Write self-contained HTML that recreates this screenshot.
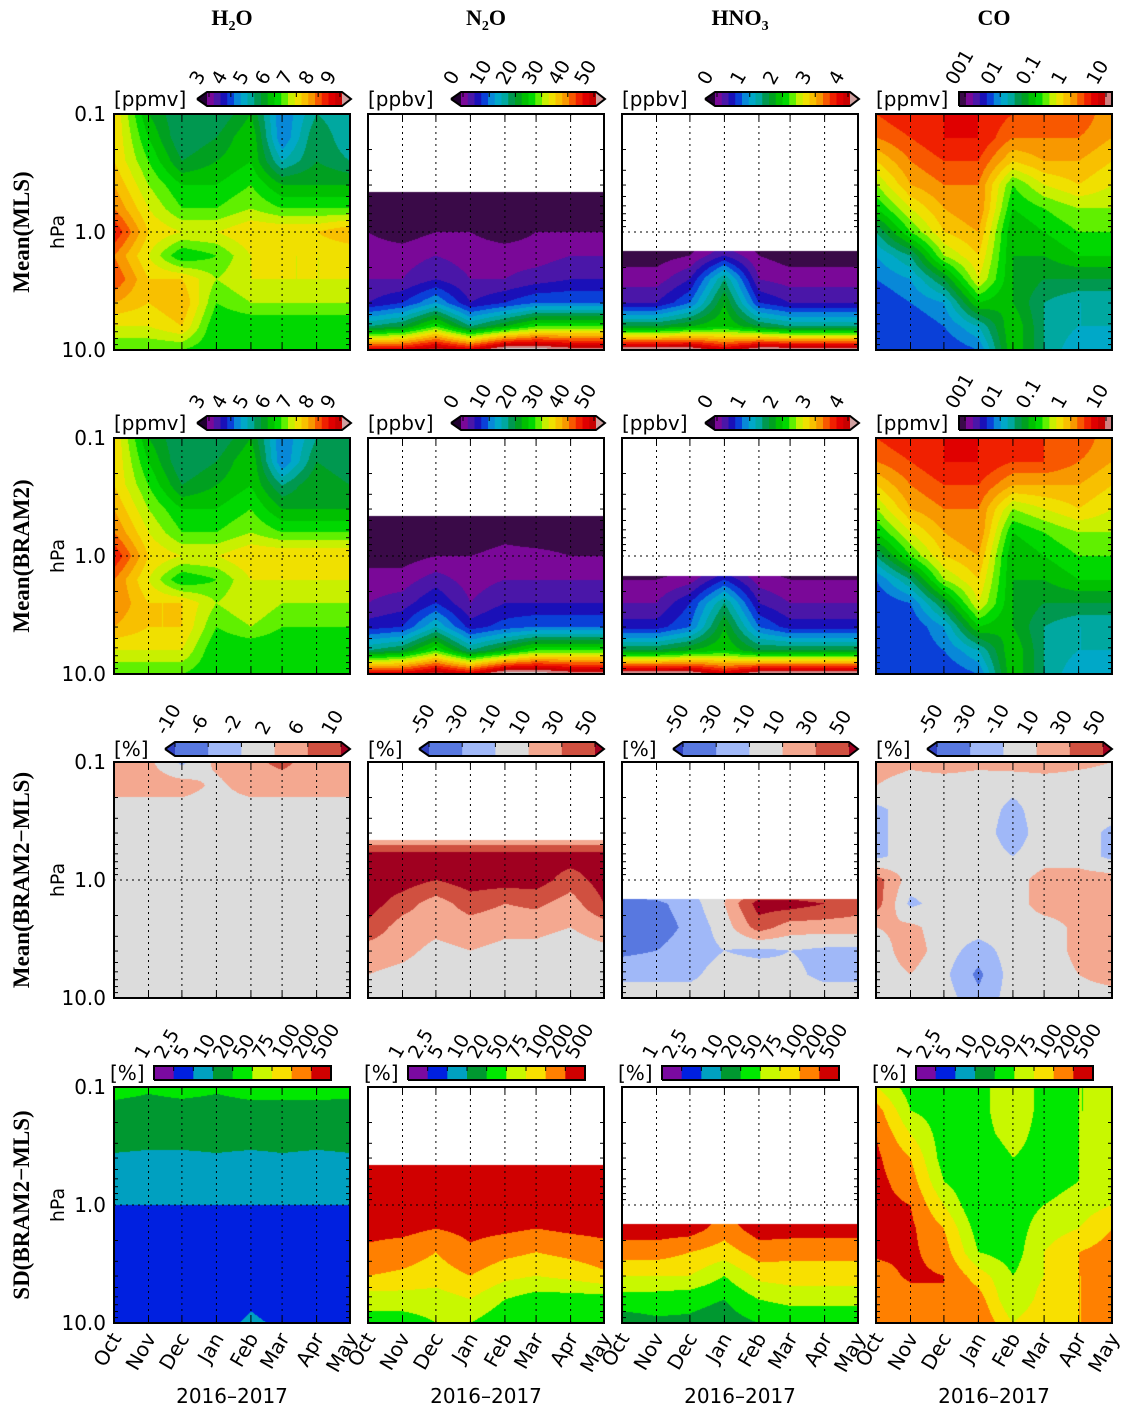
<!DOCTYPE html>
<html><head><meta charset="utf-8"><style>
html,body{margin:0;padding:0;background:#fff}
#wrap{position:relative;width:1136px;height:1413px;overflow:hidden;background:#fff}
canvas{position:absolute}
svg{position:absolute;left:0;top:0}
</style></head><body>
<div id="wrap">
<svg id="svg" width="1136" height="1413"></svg>
</div>
<script>
// ---- data ----
const monthLabels = ["Oct","Nov","Dec","Jan","Feb","Mar","Apr","May"];
const monthDays = [0,31,61,92,123,151,182,212];
const pressureRows = [0.1,0.16,0.25,0.4,0.63,1.0,1.6,2.5,4.0,6.3,10];
const yTickLabels = ["0.1","1.0","10.0"];
const yTickValues = [0.1,1,10];
const h2oTicks = ["3","4","5","6","7","8","9"];
const n2oTicks = ["0","10","20","30","40","50"];
const hno3Ticks = ["0","1","2","3","4"];
const coTicks = ["001","01","0.1","1","10"];
const diffTicksSmall = ["-10","-6","-2","2","6","10"];
const diffTicksLarge = ["-50","-30","-10","10","30","50"];
const sdTicks = ["1","2.5","5","10","20","50","75","100","200","500"];
const diffBoundsSmall = [-10,-6,-2,2,6,10];
const diffBoundsLarge = [-50,-30,-10,10,30,50];

const h2oMls = [
[15,10,8,8,10,5,8,7],[15,11,8,9,11,5,9,7],[15,12,9,10,11,7,9,8],[16,13,11,11,12,10,10,10],
[17,14,12,12,13,12,12,12],[19,15,14,14,15,15,15,16],[17,14,11,12,14,14,14,14],[18,15,15,13,14,14,14,14],
[16,15,16,12,13,13,13,13],[14,14,15,11,11,11,11,11],[12,12,12,11,11,11,11,11]];
const h2oBram = [
[15,10,8,8,10,5,8,8],[15,11,8,9,11,5,9,8],[15,12,9,10,11,8,10,9],[16,13,11,11,12,10,10,10],
[17,14,12,12,13,12,12,12],[19,15,14,14,15,15,15,15],[17,14,11,12,14,14,14,14],[17,15,15,13,14,13,13,13],
[16,15,15,12,13,12,12,12],[14,14,14,11,11,11,11,11],[12,12,12,11,11,11,11,11]];
const n2oMls = [
[0,0,0,0,0,0,0,0],[0,0,0,0,0,0,0,0],[0,0,0,0,0,0,0,0],[0,0,0,0,0,0,0,0],
[0,0,0,0,0,0,0,0],[1,0.5,1,1,0.5,1,1,1],[1.5,1.5,2,1.5,1.5,1.5,2,2],[2,2,3,2,2,2.5,3,3],
[3,4,6,3,4,5,5,5],[8,9,12,8,10,12,12,12],[20,20,21.5,20,23,23,22,22]];
const n2oBram = [
[0,0,0,0,0,0,0,0],[0,0,0,0,0,0,0,0],[0,0,0,0,0,0,0,0],[0,0,0,0,0,0,0,0],
[0,0,0,0,0.5,0,0,0],[0.5,0.5,1,1,1.5,1.5,1,1],[1.5,1.5,2.5,1.5,2,2,2,2],[2,2.5,4,2,3,3,3,3],
[3.5,4,7,3.5,4.5,5,5,5],[8,9,12,8,10,12,12,12],[20,20,21.5,20,23,23,22,22]];
const hno3Mls = [
[0,0,0,0,0,0,0,0],[0,0,0,0,0,0,0,0],[0,0,0,0,0,0,0,0],[0,0,0,0,0,0,0,0],
[0,0,0,0,0,0,0,0],[0,0,0,0,0,0,0,0],[0.5,0.5,1,3,1,0.5,0.5,0.5],[1.5,1.5,3,8,2,1.5,1.5,1.5],
[3,3,5,10,4,3,3,3],[9,9,10,11,9,8,8,8],[22.5,22.5,22.5,20,22.5,22.5,22.5,22.5]];
const hno3Bram = [
[0,0,0,0,0,0,0,0],[0,0,0,0,0,0,0,0],[0,0,0,0,0,0,0,0],[0,0,0,0,0,0,0,0],
[0,0,0,0,0,0,0,0],[0,0,0,0,0,0,0,0],[1,1,1.5,4,1.5,1,1,1],[2,2,4,8,3,2,2,2],
[3.5,3.5,5,10,5,3.5,3.5,3.5],[9,9,10,11,9,9,9,9],[22.5,22.5,22.5,20,22.5,22.5,22.5,22.5]];
const coMls = [
[18,19,19,19,18,17,18,16],[17,18,19,19,17,17,17,16],[15,17,18,18,15,16,16,15],[13,16,17,17,12,14,15,14],
[11,14,16,17,11,12,13,13],[8,12,15,16,10,11,12,12],[6,8,13,15,10,10,11,11],[5,6,9,14,10,9,9,9],
[4,5,6,11,10,8,7,7],[4,4,5,7,11,8,7,7],[4,4,4,5,11,8,6,6]];
const coBram = [
[18,19,19,19,19,18,18,16],[17,18,19,19,18,18,17,16],[15,17,18,18,16,16,16,15],[13,16,17,17,13,14,15,14],
[11,14,16,17,11,12,13,13],[8,12,15,16,10,11,12,12],[5,8,13,15,10,10,11,11],[4,5,9,14,10,9,9,9],
[4,4,6,11,10,8,7,7],[4,4,5,7,11,8,7,7],[4,4,4,5,11,8,6,6]];
const h2oDiff = [
[4,3,-3,3,5,7,4,3],[4,4,4,1,4,4,4,4],[0,0,0,0,0,0,0,0],[0,0,0,0,0,0,0,0],
[0,0,0,0,0,0,0,0],[0,0,0,0,0,0,0,0],[0,0,0,0,0,0,0,0],[0,0,0,0,0,0,0,0],
[0,0,0,0,0,0,0,0],[0,0,0,0,0,0,0,0],[0,0,0,0,0,0,0,0]];
const n2oDiff = [
[0,0,0,0,0,0,0,0],[0,0,0,0,0,0,0,0],[0,0,0,0,0,0,0,0],[0,0,0,0,0,0,0,0],
[60,60,60,60,60,60,60,60],[60,60,50,60,60,60,40,60],[60,40,20,40,30,35,20,50],[45,20,15,20,15,15,10,20],
[20,15,5,10,5,5,0,5],[10,5,0,0,0,0,0,0],[0,0,0,0,0,0,0,0]];
const hno3Diff = [
[0,0,0,0,0,0,0,0],[0,0,0,0,0,0,0,0],[0,0,0,0,0,0,0,0],[0,0,0,0,0,0,0,0],
[0,0,0,0,0,0,0,0],[0,0,0,0,0,0,0,0],[-40,-35,-20,10,60,60,50,40],[-40,-40,-25,0,40,20,20,20],
[-35,-30,-20,-10,-15,-10,-15,-15],[-15,-15,-15,0,0,-5,-15,-15],[0,0,0,0,0,0,0,0]];
const coDiff = [
[20,15,20,15,20,20,15,10],[10,0,0,0,-5,0,0,0],[-15,0,0,0,-15,0,0,0],[-15,0,0,0,-20,0,0,-15],
[-15,0,0,0,-10,0,0,-15],[40,0,0,0,0,20,20,20],[40,-15,0,0,0,20,20,20],[10,15,0,0,0,0,15,10],
[0,20,0,-20,0,0,15,10],[0,10,-5,-35,0,0,10,20],[0,0,0,-25,0,0,0,0]];
const h2oSd = [
[4.5,4.2,4.5,4.2,4.5,4.5,4.5,4.5],[3.6,3.5,3.5,3.5,3.6,3.6,3.6,3.5],[3.2,3.2,3.2,3.2,3.2,3.2,3.2,3.2],[2.95,2.9,2.9,2.95,2.9,2.95,2.9,2.95],
[2.5,2.5,2.5,2.5,2.5,2.5,2.5,2.5],[2.0,2.0,2.0,2.0,2.0,2.0,2.0,2.0],[1.4,1.4,1.4,1.4,1.5,1.4,1.4,1.4],[1.4,1.4,1.4,1.4,1.6,1.5,1.4,1.4],
[1.5,1.5,1.5,1.5,1.9,1.6,1.5,1.5],[1.5,1.6,1.6,1.6,1.9,1.7,1.6,1.6],[1.7,1.8,1.8,1.8,2.1,1.9,1.8,1.8]];
const n2oSd = [
[8.5,8.5,8.5,8.5,8.5,8.5,8.5,8.5],[8.5,8.5,8.5,8.5,8.5,8.5,8.5,8.5],[8.5,8.5,8.5,8.5,8.5,8.5,8.5,8.5],[8.5,8.5,8.5,8.5,8.5,8.5,8.5,8.5],
[8.5,8.5,8.5,8.5,8.5,8.5,8.5,8.5],[8.5,8.5,8.5,8.5,8.5,8.5,8.5,8.5],[8.3,8.3,8,8.3,8.2,8,8.2,8.3],[7.8,7.5,7,7.8,7.3,7,7.3,7.6],
[7,6.8,6.5,7,6.3,6,6.3,6.8],[5.5,5.5,5.5,6,5,4.5,4.5,4.5],[4.5,4.5,5,5,4.2,4,4,4]];
const hno3Sd = [
[8.5,8.5,8.5,8.5,8.5,8.5,8.5,8.5],[8.5,8.5,8.5,8.5,8.5,8.5,8.5,8.5],[8.5,8.5,8.5,8.5,8.5,8.5,8.5,8.5],[8.5,8.5,8.5,8.5,8.5,8.5,8.5,8.5],
[8.5,8.5,8.5,8.5,8.5,8.5,8.5,8.5],[8.5,8.5,8.5,8.5,8.5,8.5,8.5,8.5],[8.5,8.5,8.5,7.5,8.5,8.5,8.5,8.5],[7.5,7.5,7,6.5,7.5,7.3,7.3,7.3],
[6,6,6,5,6.3,6.5,6.5,6.5],[4.5,4.5,4.3,4,5,5.3,5.3,5.3],[3.5,3.8,3.8,3.5,4,4.2,4.2,4.2]];
const coSd = [
[6,4.5,4.5,4.5,6,4.5,5,5],[7.5,5,4.5,4.5,6,4.5,5,5],[8,6,4.5,4.5,5.5,4.5,5,5.5],[8.2,7,4.5,4,5,4.5,5,5.5],
[8.3,7.5,5,4,4.5,4.5,5,5.5],[8.3,8,6,4,4.5,5,5.5,6],[8.3,8.2,7,4.5,4.5,5.5,6,7],[8.2,8.2,7.5,5,4.5,6,7,7.5],
[7.5,8.2,8,6.5,5,6,7,7],[7,7.5,8,7.5,5,6.5,7,7],[7,7,8,8,6,7,7,7]];

// ---- styles ----
const rainbow = ["#3a0a48","#7a0898","#4a16a8","#1a10b8","#0a40d8","#0888d8","#00a8c8","#00a8a0","#009850","#00a020","#00c000","#00d800","#60f000","#c8f000","#f0e000","#f8c000","#f89800","#f85800","#f02000","#e00000","#c80000","#d08080"];
const diffCols = ["#3040c0","#5878e0","#a0b8f8","#dcdcdc","#f4a890","#d05040","#a00020"];
const sdCols = ["#7a0aa0","#0020e0","#00a0c0","#009830","#00e800","#c8f800","#f8e000","#ff8000","#d00000"];
const PX=[114,368,622,876], PY=[114,438,762,1087], W=236;

function hex(h){return [parseInt(h.substr(1,2),16),parseInt(h.substr(3,2),16),parseInt(h.substr(5,2),16)];}
function rainbowFn(over){return v=>{const i=Math.floor(v);if(i<0)return "#200030";if(i>21)return over||rainbow[21];return rainbow[i];};}
function diffFn(b){return v=>{let i=0;while(i<b.length&&v>=b[i])i++;return diffCols[i];};}
function sdFn(v){let i=Math.floor(v);if(i<0)i=0;if(i>8)i=8;return sdCols[i];}

const wrap=document.getElementById('wrap');
const svg=document.getElementById('svg');
const NS="http://www.w3.org/2000/svg";
function el(tag,attrs,parent){const e=document.createElementNS(NS,tag);for(const k in attrs)e.setAttribute(k,attrs[k]);(parent||svg).appendChild(e);return e;}
function xScale(x0,d){return x0+d/212*W;}
function yScale(y0,p){return y0+(Math.log10(p)+1)/2*W;}

function drawField(col,row,grid,fn,cutoff,name){
  const c=document.createElement('canvas');c.width=W;c.height=W;
  c.style.left=PX[col]+'px';c.style.top=PY[row]+'px';
  
  
  wrap.insertBefore(c,svg);
  const ctx=c.getContext('2d');const img=ctx.createImageData(W,W);const cache={};
  for(let py=0;py<W;py++){
    const lp=-1+(py+0.5)/W*2;const p=Math.pow(10,lp);
    let r=(lp+1)/0.2;let r0=Math.min(9,Math.floor(r));let fr=r-r0;
    for(let px=0;px<W;px++){
      let rgb;
      if(cutoff&&p<cutoff){rgb=[255,255,255];}
      else{
        const d=(px+0.5)/W*212;let c0=0;while(c0<6&&d>=monthDays[c0+1])c0++;
        const fc=(d-monthDays[c0])/(monthDays[c0+1]-monthDays[c0]);
        const v=(grid[r0][c0]*(1-fc)+grid[r0][c0+1]*fc)*(1-fr)+(grid[r0+1][c0]*(1-fc)+grid[r0+1][c0+1]*fc)*fr;
        const h=fn(v);rgb=cache[h]||(cache[h]=hex(h));
      }
      const k=(py*W+px)*4;img.data[k]=rgb[0];img.data[k+1]=rgb[1];img.data[k+2]=rgb[2];img.data[k+3]=255;
    }
  }
  ctx.putImageData(img,0,0);
}

const fields=[
 [h2oMls,rainbowFn(),0,"h2o-mls-field"],[n2oMls,rainbowFn("#c8c8c8"),0.46,"n2o-mls-field"],[hno3Mls,rainbowFn("#c8c8c8"),1.45,"hno3-mls-field"],[coMls,rainbowFn(),0,"co-mls-field"],
 [h2oBram,rainbowFn(),0,"h2o-bram-field"],[n2oBram,rainbowFn("#c8c8c8"),0.46,"n2o-bram-field"],[hno3Bram,rainbowFn("#c8c8c8"),1.48,"hno3-bram-field"],[coBram,rainbowFn(),0,"co-bram-field"],
 [h2oDiff,diffFn(diffBoundsSmall),0,"h2o-diff-field"],[n2oDiff,diffFn(diffBoundsLarge),0.46,"n2o-diff-field"],[hno3Diff,diffFn(diffBoundsLarge),1.45,"hno3-diff-field"],[coDiff,diffFn(diffBoundsLarge),0,"co-diff-field"],
 [h2oSd,sdFn,0,"h2o-sd-field"],[n2oSd,sdFn,0.46,"n2o-sd-field"],[hno3Sd,sdFn,1.45,"hno3-sd-field"],[coSd,sdFn,0,"co-sd-field"]];
fields.forEach((f,i)=>drawField(i%4,Math.floor(i/4),f[0],f[1],f[2],f[3]));

// axes frames, grid, ticks
const SANS='"DejaVu Sans","Liberation Sans",sans-serif';
for(let row=0;row<4;row++)for(let col=0;col<4;col++){
  const x0=PX[col],y0=PY[row];
  const g=el('g',{});
  
  
  for(let m=1;m<7;m++){const x=xScale(x0,monthDays[m]);el('line',{x1:x,y1:y0,x2:x,y2:y0+W,stroke:'#000','stroke-width':1,'stroke-dasharray':'2,4'},g);}
  const y1=yScale(y0,1);el('line',{x1:x0,y1:y1,x2:x0+W,y2:y1,stroke:'#000','stroke-width':1,'stroke-dasharray':'2,4'},g);
  for(let m=1;m<7;m++){const x=xScale(x0,monthDays[m]);el('line',{x1:x,y1:y0,x2:x,y2:y0+6,stroke:'#000'},g);el('line',{x1:x,y1:y0+W,x2:x,y2:y0+W-6,stroke:'#000'},g);}
  for(let dec=0;dec<2;dec++)for(let k=2;k<10;k++){const y=yScale(y0,Math.pow(10,dec-1)*k);el('line',{x1:x0,y1:y,x2:x0+4,y2:y,stroke:'#000'},g);el('line',{x1:x0+W,y1:y,x2:x0+W-4,y2:y,stroke:'#000'},g);}
  el('rect',{x:x0,y:y0,width:W,height:W,fill:'none',stroke:'#000','stroke-width':2},g);
  if(col===0){
    yTickValues.forEach((v,i)=>{const t=el('text',{x:106,y:yScale(y0,v)+7,'text-anchor':'end','font-family':SANS,'font-size':20},g);t.textContent=yTickLabels[i];});
    const h=el('text',{x:0,y:0,transform:`translate(64,${y0+W/2}) rotate(-90)`,'text-anchor':'middle','font-family':SANS,'font-size':19},g);h.textContent='hPa';
  }
  if(row===3){
    monthLabels.forEach((m,i)=>{const x=xScale(x0,monthDays[i])+8;const t=el('text',{x:x,y:1338,'text-anchor':'end','font-family':SANS,'font-size':20,transform:`rotate(-60,${x},1338)`},g);t.textContent=m;});
    const t=el('text',{x:x0+W/2,y:1403,'text-anchor':'middle','font-family':SANS,'font-size':20},g);t.textContent='2016–2017';
  }
}

// titles
const SERIF='"Liberation Serif","DejaVu Serif",serif';
const titles=[['H','2','O'],['N','2','O'],['HNO','3',''],['CO','','']];
titles.forEach((t,i)=>{const e=el('text',{x:PX[i]+W/2,y:25,'text-anchor':'middle','font-family':SERIF,'font-size':22,'font-weight':'bold'});
  
  
  const a=el('tspan',{},e);a.textContent=t[0];if(t[1]){const b=el('tspan',{'font-size':14,dy:5},e);b.textContent=t[1];}if(t[2]){const c=el('tspan',{dy:-5},e);c.textContent=t[2];}});
const rowLabels=['Mean(MLS)','Mean(BRAM2)','Mean(BRAM2−MLS)','SD(BRAM2−MLS)'];
rowLabels.forEach((t,i)=>{const e=el('text',{x:0,y:0,transform:`translate(29,${PY[i]+W/2}) rotate(-90)`,'text-anchor':'middle','font-family':SERIF,'font-size':23,'font-weight':'bold'});
  
  
  e.textContent=t;});

// colorbars
function colorbar(x1,x2,y,colors,arrowL,arrowR,ticks,tickPos,unit){
  const g=el('g',{});
  
  
  const h=14,n=colors.length;
  const w=(x2-x1)/n;
  colors.forEach((c,i)=>el('rect',{x:x1+i*w,y:y,width:w+0.5,height:h,fill:c},g));
  if(arrowL){el('polygon',{points:`${x1},${y} ${x1-10},${y+h/2} ${x1},${y+h}`,fill:arrowL},g);}
  if(arrowR){el('polygon',{points:`${x2},${y} ${x2+9},${y+h/2} ${x2},${y+h}`,fill:arrowR},g);}
  let outline=(arrowL?`${x1-10},${y+h/2} `:`${x1},${y+h} ${x1},${y} `)+`${x1},${y} ${x2},${y} `+(arrowR?`${x2+9},${y+h/2} `:`${x2},${y} ${x2},${y+h} `)+`${x2},${y+h} ${x1},${y+h}`+(arrowL?` ${x1-10},${y+h/2}`:'');
  el('polyline',{points:outline,fill:'none',stroke:'#000','stroke-width':2},g);
  ticks.forEach((t,i)=>{const x=tickPos(i);el('line',{x1:x,y1:y,x2:x,y2:y+5,stroke:'#000'},g);
    const tx=x-9,ty=y-6;const e=el('text',{x:tx,y:ty,'font-family':SANS,'font-size':19,transform:`rotate(-60,${tx},${ty})`},g);e.textContent=t;});
  const u=el('text',{x:unit[1],y:y+h,'font-family':SANS,'font-size':20},g);u.textContent=unit[0];
}
const rb20=rainbow.slice(1,21);
for(let row=0;row<2;row++){
  const y=PY[row]-22;
  [[h2oTicks,'[ppmv]'],[n2oTicks,'[ppbv]'],[hno3Ticks,'[ppbv]']].forEach((d,c)=>{
    const x1=PX[c]+93,x2=PX[c]+228;
    colorbar(x1,x2,y,rb20,'#200030','#d0a0a0',d[0],i=>x1+2+i*(x2-x1-4)/(d[0].length-1),[d[1],PX[c]]);
  });
  const x1=PX[3]+83,x2=PX[3]+W;
  colorbar(x1,x2,y,rainbow,null,null,coTicks,i=>x1+6+i*(x2-x1-12)/4,['[ppmv]',PX[3]]);
}
[diffTicksSmall,diffTicksLarge,diffTicksLarge,diffTicksLarge].forEach((t,c)=>{
  const x1=PX[c]+61,x2=PX[c]+227;
  colorbar(x1,x2,PY[2]-20,diffCols.slice(1,6),diffCols[0],diffCols[6],t,i=>x1+i*(x2-x1)/5,['[%]',PX[c]]);
});
for(let c=0;c<4;c++){
  const x1=PX[c]+40,x2=PX[c]+217;
  colorbar(x1,x2,PY[3]-21,sdCols,null,null,sdTicks,i=>x1+i*(x2-x1)/9,['[%]',PX[c]-4]);
}
</script>
</body></html>
